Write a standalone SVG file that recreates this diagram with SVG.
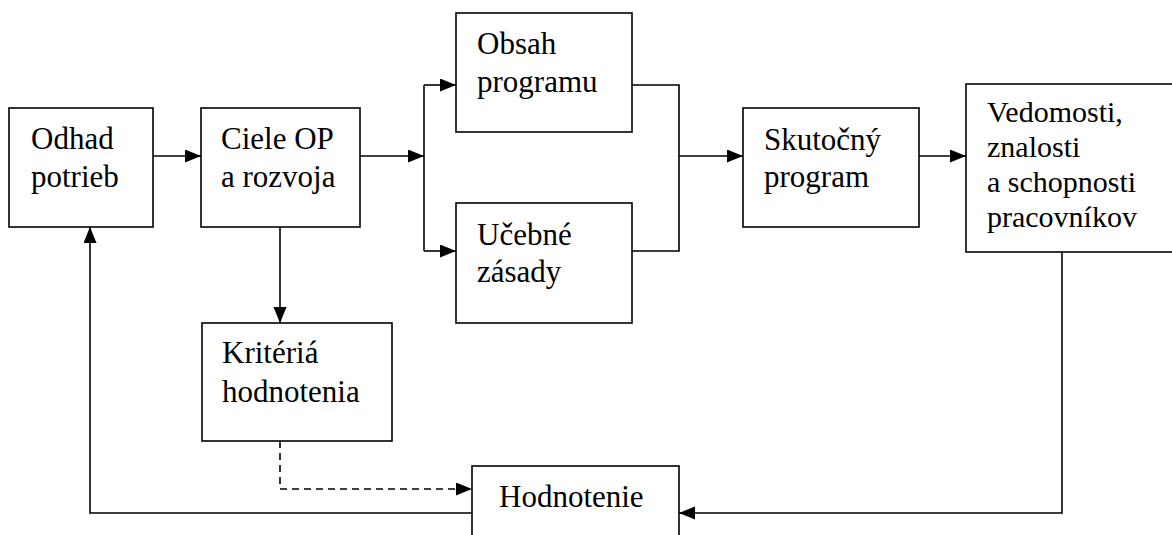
<svg xmlns="http://www.w3.org/2000/svg" width="1172" height="535" viewBox="0 0 1172 535">
  <defs>
    <marker id="arrow" markerUnits="userSpaceOnUse" markerWidth="17" markerHeight="14" refX="16" refY="6.5" orient="auto">
      <path d="M0,0 L16,6.5 L0,13 z" fill="#000"/>
    </marker>
    <style>
      .box { fill: #fff; stroke: #000; stroke-width: 1.6; }
      .lbl { font-family: "Liberation Serif", "Times New Roman", serif; font-size: 31px; fill: #000; }
      .lbl.sm { font-size: 30px; }
      .wire { fill: none; stroke: #000; stroke-width: 1.6; }
      .dash { stroke-dasharray: 7 5; }
    </style>
  </defs>
  <rect width="1172" height="535" fill="#fff"/>

  <!-- flow connectors -->
  <g id="connectors">
    <line class="wire" x1="153" y1="156" x2="201" y2="156" marker-end="url(#arrow)"/>
    <line class="wire" x1="360" y1="156" x2="424" y2="156" marker-end="url(#arrow)"/>
    <line class="wire" x1="424" y1="85" x2="424" y2="251"/>
    <line class="wire" x1="424" y1="85" x2="456" y2="85" marker-end="url(#arrow)"/>
    <line class="wire" x1="424" y1="251" x2="456" y2="251" marker-end="url(#arrow)"/>
    <polyline class="wire" points="632,85 679,85 679,251 632,251"/>
    <line class="wire" x1="679" y1="156" x2="743" y2="156" marker-end="url(#arrow)"/>
    <line class="wire" x1="919" y1="156" x2="966" y2="156" marker-end="url(#arrow)"/>
    <line class="wire" x1="280" y1="227" x2="280" y2="323" marker-end="url(#arrow)"/>
    <polyline class="wire dash" points="280,441 280,489 472,489" marker-end="url(#arrow)"/>
    <polyline class="wire" points="1062,252 1062,513 679,513" marker-end="url(#arrow)"/>
    <polyline class="wire" points="472,513 90,513 90,227" marker-end="url(#arrow)"/>
  </g>

  <g id="odhad">
    <rect class="box" x="9" y="108" width="144" height="119"/>
    <text class="lbl" x="31" y="149">Odhad</text>
    <text class="lbl" x="31" y="187">potrieb</text>
  </g>

  <g id="ciele">
    <rect class="box" x="201" y="108" width="159" height="119"/>
    <text class="lbl" x="221" y="149">Ciele OP</text>
    <text class="lbl" x="221" y="187">a rozvoja</text>
  </g>

  <g id="obsah">
    <rect class="box" x="456" y="13" width="176" height="119"/>
    <text class="lbl" x="477" y="54">Obsah</text>
    <text class="lbl" x="477" y="92">programu</text>
  </g>

  <g id="ucebne">
    <rect class="box" x="456" y="203" width="176" height="120"/>
    <text class="lbl" x="477" y="245">Učebné</text>
    <text class="lbl" x="477" y="282">zásady</text>
  </g>

  <g id="skutocny">
    <rect class="box" x="743" y="108" width="176" height="119"/>
    <text class="lbl" x="764" y="150">Skutočný</text>
    <text class="lbl" x="764" y="187">program</text>
  </g>

  <g id="vedomosti">
    <rect class="box" x="966" y="84" width="212" height="168"/>
    <text class="lbl sm" x="987" y="122">Vedomosti,</text>
    <text class="lbl sm" x="987" y="157">znalosti</text>
    <text class="lbl sm" x="987" y="192">a schopnosti</text>
    <text class="lbl sm" x="987" y="227">pracovníkov</text>
  </g>

  <g id="kriteria">
    <rect class="box" x="202" y="323" width="190" height="118"/>
    <text class="lbl" x="222" y="363">Kritériá</text>
    <text class="lbl" x="222" y="402">hodnotenia</text>
  </g>

  <g id="hodnotenie">
    <rect class="box" x="472" y="466" width="207" height="80"/>
    <text class="lbl" x="499" y="507">Hodnotenie</text>
  </g>
</svg>
